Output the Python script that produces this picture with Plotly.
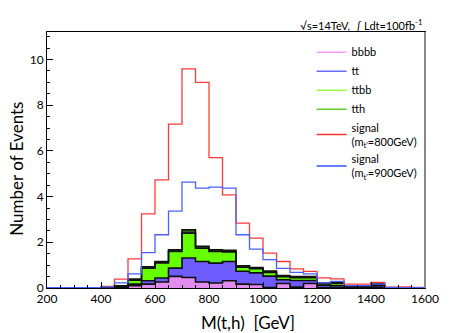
import plotly.graph_objects as go
import numpy as np

# bin edges: 200 .. 1600 GeV, 50 GeV wide
bin_edges = list(range(200, 1650, 50))

# stacked backgrounds (per bin, 28 bins)
bbbb = [0, 0, 0, 0, 0, 0.03, 0.10, 0.17, 0.26, 0.51, 0.46, 0.26, 0.22, 0.32,
        0.17, 0.15, 0.02, 0.20, 0.04, 0.20, 0.02, 0.02, 0.01, 0.01, 0.04, 0, 0, 0]
tt = [0, 0, 0, 0, 0.02, 0.03, 0.07, 0.15, 0.18, 0.36, 0.85, 0.90, 0.87, 0.84,
      0.56, 0.51, 0.50, 0.16, 0.29, 0.13, 0.10, 0.08, 0.04, 0.04, 0.08, 0.01, 0, 0]
ttbb = [0, 0, 0, 0, 0, 0.03, 0.17, 0.55, 0.66, 0.73, 1.09, 0.58, 0.51, 0.42,
        0.18, 0.18, 0.16, 0.13, 0.12, 0.12, 0.06, 0.10, 0.01, 0, 0.04, 0, 0, 0]
tth = [0, 0, 0, 0, 0, 0.01, 0.05, 0.06, 0.06, 0.07, 0.15, 0.08, 0.07, 0.07,
       0.06, 0.06, 0.06, 0.05, 0.05, 0.05, 0.04, 0.05, 0.04, 0.02, 0.06, 0, 0, 0]

# signals
signal_800 = [0, 0, 0, 0, 0.07, 0.39, 1.27, 3.24, 4.73, 7.17, 9.59, 9.00, 5.70, 4.07,
              2.84, 2.18, 1.53, 1.16, 0.84, 0.73, 0.44, 0.40, 0.17, 0.17, 0.24, 0.04, 0.05, 0.03]
signal_900 = [0.01, 0.01, 0.01, 0.01, 0.05, 0.22, 0.62, 1.55, 2.33, 3.36, 4.63, 4.37, 4.41, 4.37,
              2.33, 1.70, 1.24, 0.86, 0.68, 0.62, 0.22, 0.29, 0.10, 0.10, 0.17, 0.03, 0.02, 0.02]

FONT = "Lato"


def step(vals):
    # repeat last value so the hv line reaches the final edge
    return list(vals) + [vals[-1]]


fig = go.Figure()

# stacked histograms (cumulative, filled between layers)
stack = [("bbbb", bbbb, "#e38cf0"), ("tt", tt, "#6f5cff"),
         ("ttbb", ttbb, "#66ff00"), ("tth", tth, "#2f6418")]
cum = np.zeros(len(bbbb))
for i, (name, vals, col) in enumerate(stack):
    cum = cum + np.array(vals)
    fig.add_trace(go.Scatter(
        x=bin_edges, y=step(cum.tolist()), mode="lines", line_shape="hv",
        line=dict(color="#111111", width=1.6), fill="tozeroy" if i == 0 else "tonexty",
        fillcolor=col, showlegend=False, hoverinfo="skip"))

fig.add_trace(go.Scatter(x=bin_edges, y=step(signal_800), mode="lines", line_shape="hv",
                         line=dict(color="#ff3b3b", width=1.3), showlegend=False))
fig.add_trace(go.Scatter(x=bin_edges, y=step(signal_900), mode="lines", line_shape="hv",
                         line=dict(color="#4a60ff", width=1.3), showlegend=False))

# legend entries (line samples like ROOT TLegend)
legend_items = [("bbbb", "#ff9cff"), ("tt", "#6a6aff"), ("ttbb", "#99ff44"), ("tth", "#66cc33"),
                ("signal<br>(m<sub>t'</sub>=800GeV)", "#ff3333"),
                ("signal<br>(m<sub>t'</sub>=900GeV)", "#3355ff")]
for name, col in legend_items:
    fig.add_trace(go.Scatter(x=[None], y=[None], mode="lines", name=name,
                             line=dict(color=col, width=1.5)))

# page body has an 8px margin, so the figure is made 8px smaller
fig.update_layout(
    width=465, height=325,
    margin=dict(l=39, r=48, t=24, b=45),
    paper_bgcolor="white", plot_bgcolor="white",
    font=dict(family=FONT, size=12, color="black"),
    legend=dict(x=0.70, y=0.978, xanchor="left", yanchor="top", bgcolor="rgba(0,0,0,0)",
                font=dict(size=11), traceorder="normal", tracegroupgap=0),
    xaxis=dict(range=[200, 1600], tickvals=list(range(200, 1601, 200)), ticks="inside",
               ticklen=6, tickcolor="black", showgrid=False, zeroline=False,
               showline=True, linecolor="black", linewidth=1, mirror=True,
               minor=dict(dtick=50, ticks="inside", ticklen=3, tickcolor="black"),
               tickfont=dict(size=12), automargin=False),
    yaxis=dict(range=[0, 11.2], dtick=2, ticks="inside", ticklen=6, tickcolor="black",
               showgrid=False, zeroline=False, showline=True, linecolor="black", linewidth=1,
               mirror=True, minor=dict(dtick=0.5, ticks="inside", ticklen=3, tickcolor="black"),
               tickfont=dict(size=12), automargin=False),
)

# ROOT frame: right edge drawn a bit heavier and grey
fig.add_shape(type="line", xref="paper", yref="paper", x0=1, x1=1, y0=0, y1=1,
              line=dict(color="#888888", width=2))

fig.add_annotation(text="Number of Events", xref="paper", yref="paper", x=-0.08, y=0.465,
                   xanchor="center", yanchor="middle",
                   textangle=-90, showarrow=False, font=dict(size=17))
fig.add_annotation(text="M(t,h)  [GeV]", xref="paper", yref="paper", x=0.661, y=-0.133,
                   xanchor="right", yanchor="middle", showarrow=False, font=dict(size=17))
fig.add_annotation(text="√s=14TeV,  ∫ Ldt=100fb<sup>-1</sup>", xref="paper", yref="paper",
                   x=0.997, y=1.031, xanchor="right", yanchor="middle", showarrow=False,
                   font=dict(size=11))

fig.write_html("out.html")
